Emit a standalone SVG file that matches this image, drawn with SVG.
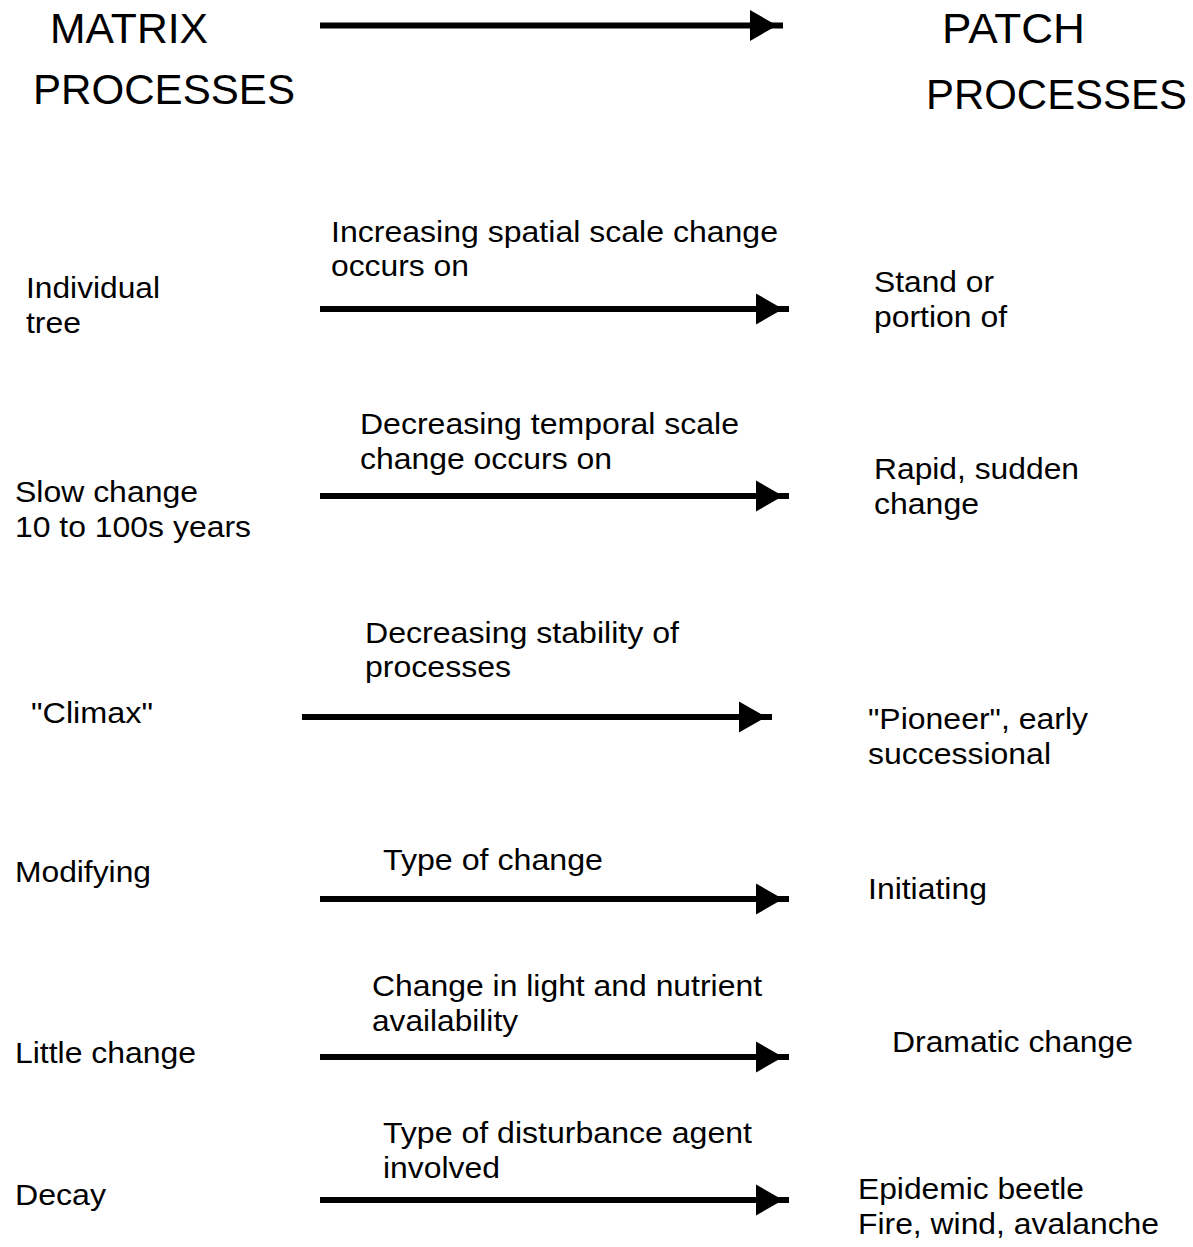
<svg xmlns="http://www.w3.org/2000/svg" xmlns:xlink="http://www.w3.org/1999/xlink" width="1193" height="1247" viewBox="0 0 1193 1247">
  <style>
    text { font-family: "Liberation Sans", Arial, sans-serif; fill: #000; }
    .head { font-size: 42px; }
    .lbl { font-size: 30px; }
    .shaft { stroke: #000; stroke-width: 6; fill: none; }
    .tip { fill: #000; }
  </style>
  <defs>
    <!-- filled triangular head; origin at the end of the shaft -->
    <polygon id="head" class="tip" points="-33,-15.5 -6,0 -33,15.5"/>
  </defs>
  <rect width="1193" height="1247" fill="#fff"/>

  <!-- column headings -->
  <g id="matrix-heading">
    <text class="head" x="50" y="43" textLength="158" lengthAdjust="spacingAndGlyphs">MATRIX</text>
    <text class="head" x="33" y="104" textLength="262" lengthAdjust="spacingAndGlyphs">PROCESSES</text>
  </g>
  <g id="patch-heading">
    <text class="head" x="942" y="43" textLength="143" lengthAdjust="spacingAndGlyphs">PATCH</text>
    <text class="head" x="926" y="109" textLength="261" lengthAdjust="spacingAndGlyphs">PROCESSES</text>
  </g>

  <!-- left column: matrix side -->
  <g id="individual-tree">
    <text class="lbl" x="26" y="298" textLength="134" lengthAdjust="spacingAndGlyphs">Individual</text>
    <text class="lbl" x="26" y="333" textLength="55" lengthAdjust="spacingAndGlyphs">tree</text>
  </g>
  <g id="slow-change">
    <text class="lbl" x="15" y="502" textLength="183" lengthAdjust="spacingAndGlyphs">Slow change</text>
    <text class="lbl" x="15" y="537" textLength="236" lengthAdjust="spacingAndGlyphs">10 to 100s years</text>
  </g>
  <g id="climax">
    <text class="lbl" x="31" y="723" textLength="122" lengthAdjust="spacingAndGlyphs">"Climax"</text>
  </g>
  <g id="modifying">
    <text class="lbl" x="15" y="882" textLength="136" lengthAdjust="spacingAndGlyphs">Modifying</text>
  </g>
  <g id="little-change">
    <text class="lbl" x="15" y="1063" textLength="181" lengthAdjust="spacingAndGlyphs">Little change</text>
  </g>
  <g id="decay">
    <text class="lbl" x="15" y="1205" textLength="91" lengthAdjust="spacingAndGlyphs">Decay</text>
  </g>

  <!-- right column: patch side -->
  <g id="stand">
    <text class="lbl" x="874" y="292" textLength="120" lengthAdjust="spacingAndGlyphs">Stand or</text>
    <text class="lbl" x="874" y="327" textLength="133" lengthAdjust="spacingAndGlyphs">portion of</text>
  </g>
  <g id="rapid-change">
    <text class="lbl" x="874" y="479" textLength="205" lengthAdjust="spacingAndGlyphs">Rapid, sudden</text>
    <text class="lbl" x="874" y="514" textLength="105" lengthAdjust="spacingAndGlyphs">change</text>
  </g>
  <g id="pioneer">
    <text class="lbl" x="868" y="729" textLength="220" lengthAdjust="spacingAndGlyphs">"Pioneer", early</text>
    <text class="lbl" x="868" y="764" textLength="183" lengthAdjust="spacingAndGlyphs">successional</text>
  </g>
  <g id="initiating">
    <text class="lbl" x="868" y="899" textLength="119" lengthAdjust="spacingAndGlyphs">Initiating</text>
  </g>
  <g id="dramatic-change">
    <text class="lbl" x="892" y="1052" textLength="241" lengthAdjust="spacingAndGlyphs">Dramatic change</text>
  </g>
  <g id="disturbance-agents">
    <text class="lbl" x="858" y="1199" textLength="226" lengthAdjust="spacingAndGlyphs">Epidemic beetle</text>
    <text class="lbl" x="858" y="1234" textLength="301" lengthAdjust="spacingAndGlyphs">Fire, wind, avalanche</text>
  </g>

  <!-- arrows running from matrix to patch, with their captions -->
  <g id="connectors">
    <g id="arrow-main">
      <line class="shaft" x1="320" y1="25.5" x2="783" y2="25.5"/>
      <use xlink:href="#head" x="783" y="25.5"/>
    </g>
    <g id="arrow-spatial">
      <text class="lbl" x="331" y="242" textLength="447" lengthAdjust="spacingAndGlyphs">Increasing spatial scale change</text>
      <text class="lbl" x="331" y="276" textLength="138" lengthAdjust="spacingAndGlyphs">occurs on</text>
      <line class="shaft" x1="320" y1="309" x2="789" y2="309"/>
      <use xlink:href="#head" x="789" y="309"/>
    </g>
    <g id="arrow-temporal">
      <text class="lbl" x="360" y="434" textLength="379" lengthAdjust="spacingAndGlyphs">Decreasing temporal scale</text>
      <text class="lbl" x="360" y="469" textLength="252" lengthAdjust="spacingAndGlyphs">change occurs on</text>
      <line class="shaft" x1="320" y1="496" x2="789" y2="496"/>
      <use xlink:href="#head" x="789" y="496"/>
    </g>
    <g id="arrow-stability">
      <text class="lbl" x="365" y="643" textLength="314" lengthAdjust="spacingAndGlyphs">Decreasing stability of</text>
      <text class="lbl" x="365" y="677" textLength="146" lengthAdjust="spacingAndGlyphs">processes</text>
      <line class="shaft" x1="302" y1="717" x2="772" y2="717"/>
      <use xlink:href="#head" x="772" y="717"/>
    </g>
    <g id="arrow-type">
      <text class="lbl" x="383" y="870" textLength="220" lengthAdjust="spacingAndGlyphs">Type of change</text>
      <line class="shaft" x1="320" y1="899" x2="789" y2="899"/>
      <use xlink:href="#head" x="789" y="899"/>
    </g>
    <g id="arrow-light">
      <text class="lbl" x="372" y="996" textLength="390" lengthAdjust="spacingAndGlyphs">Change in light and nutrient</text>
      <text class="lbl" x="372" y="1031" textLength="146" lengthAdjust="spacingAndGlyphs">availability</text>
      <line class="shaft" x1="320" y1="1057" x2="789" y2="1057"/>
      <use xlink:href="#head" x="789" y="1057"/>
    </g>
    <g id="arrow-agent">
      <text class="lbl" x="383" y="1143" textLength="369" lengthAdjust="spacingAndGlyphs">Type of disturbance agent</text>
      <text class="lbl" x="383" y="1178" textLength="117" lengthAdjust="spacingAndGlyphs">involved</text>
      <line class="shaft" x1="320" y1="1200" x2="789" y2="1200"/>
      <use xlink:href="#head" x="789" y="1200"/>
    </g>
  </g>
</svg>
